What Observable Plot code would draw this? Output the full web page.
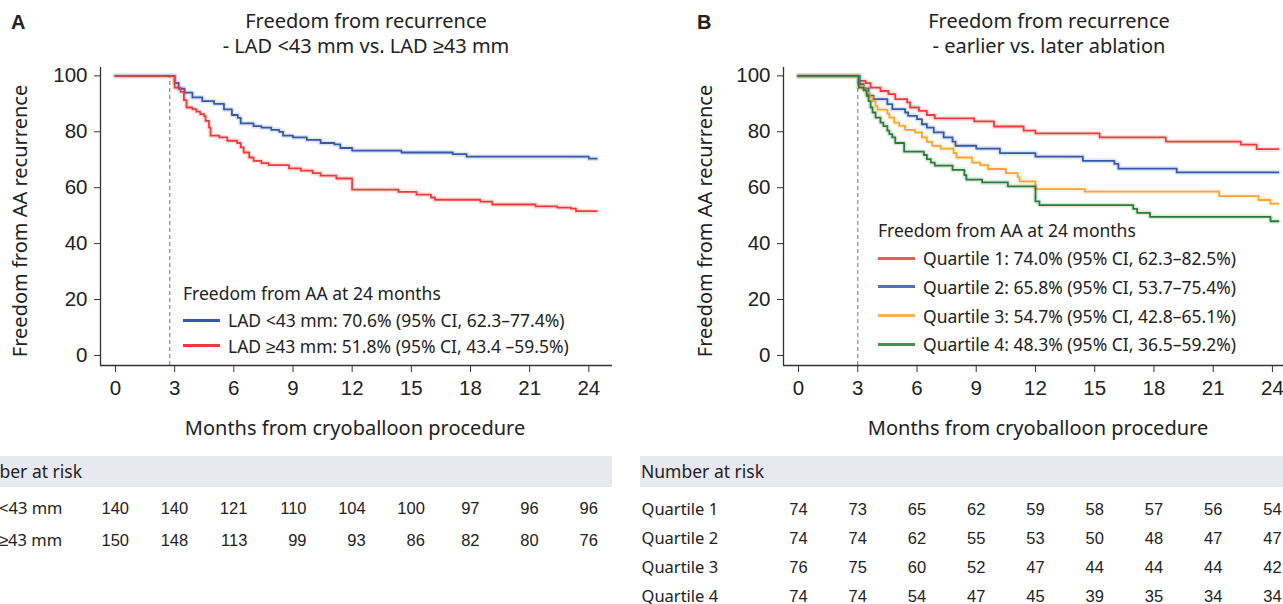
<!DOCTYPE html>
<html>
<head>
<meta charset="utf-8">
<script src="https://cdn.jsdelivr.net/npm/d3@7"></script>
<script src="https://cdn.jsdelivr.net/npm/@observablehq/plot@0.6"></script>
<style>
  body { margin: 0; background: #fff; }
  #root { position: relative; width: 1283px; height: 604px; overflow: hidden; background: #fff;
          font-family: "Noto Sans", sans-serif; color: #222; }
  .abs { position: absolute; white-space: nowrap; line-height: 1.2; }
  .band { position: absolute; background: #e8e8f1; }
  .sw { position: absolute; height: 3px; }
</style>
</head>
<body>
<div id="root"></div>
<script>
// ---------------- data ----------------
const xTicks = [0, 3, 6, 9, 12, 15, 18, 21, 24];
const yTicks = [0, 20, 40, 60, 80, 100];

// Panel A: LAD <43 mm
const ladLowT = [0, 3.0, 3.2, 3.5, 3.9, 4.4, 5.0, 5.5, 5.9, 6.2, 6.35, 7.0, 7.4, 7.9, 8.3, 8.5, 9.0, 9.7, 10.4, 11.1, 11.4, 12.0, 14.5, 17.1, 17.8, 24.0, 24.4];
const ladLowS = [100, 97.5, 95.4, 94, 92.3, 91, 90, 88, 86, 85, 83, 82, 81.5, 80.7, 80, 78.6, 78, 77.1, 76, 75.5, 74.2, 73.3, 72.6, 72, 71.1, 70.4, 70.4];
// Panel A: LAD >=43 mm
const ladHighT = [0, 3.0, 3.3, 3.47, 3.6, 3.9, 4.1, 4.3, 4.5, 4.57, 4.74, 4.82, 5.26, 5.67, 6.17, 6.35, 6.5, 6.78, 7.0, 7.4, 7.77, 8.8, 9.4, 10.0, 10.4, 11.2, 12.0, 14.35, 15.26, 16.0, 16.2, 18.5, 19.1, 21.3, 22.4, 23.1, 23.35, 24.4];
const ladHighS = [100, 95.8, 94.3, 91.3, 88.7, 88.1, 87.2, 86.3, 85.5, 83.9, 81.5, 78.6, 78, 76.8, 76, 74.4, 72.6, 70.8, 69.6, 68.8, 68.1, 66.9, 66.1, 65.2, 64.3, 63.3, 59.3, 58.5, 57.5, 56.5, 55.7, 55, 54, 53.3, 52.9, 52.5, 51.6, 51.6];

// Panel B: quartiles
const q1T = [0, 3.05, 3.4, 3.65, 4.15, 4.55, 4.9, 5.5, 5.65, 6.1, 6.5, 6.9, 8.9, 9.9, 11.4, 12.0, 15.25, 18.6, 22.4, 23.2, 24.3];
const q1S = [100, 98.2, 97.4, 95.8, 94.6, 93.5, 91.7, 90.5, 88.7, 87.5, 86, 84.8, 83.7, 81.9, 80.4, 79.4, 78, 76.5, 75.4, 73.8, 73.8];
const q2T = [0, 3.1, 3.3, 3.55, 3.8, 4.5, 4.75, 5.4, 5.55, 6.0, 6.25, 6.5, 6.85, 7.35, 7.8, 7.95, 9.0, 10.2, 12.0, 14.4, 16.0, 16.2, 19.15, 24.3];
const q2S = [100, 97, 95.5, 92.9, 91.7, 89.9, 88.1, 86.9, 85.7, 84.5, 82.7, 81.5, 79.8, 78, 76.5, 75, 74, 72.4, 71.1, 69.6, 68.5, 66.8, 65.5, 65.5];
const q3T = [0, 3.05, 3.3, 3.45, 3.6, 3.75, 3.9, 4.0, 4.5, 4.6, 4.85, 5.1, 5.4, 5.9, 6.25, 6.5, 6.77, 7.2, 7.85, 8.0, 8.8, 9.2, 9.6, 10.5, 11.1, 11.2, 12.0, 14.5, 21.3, 23.3, 23.9, 24.3];
const q3S = [100, 96.4, 95.2, 94, 92.5, 91, 89.3, 87.9, 86.5, 85.1, 83.3, 82.1, 80.7, 79.8, 78, 76.4, 75, 74, 72.4, 70.8, 69, 68.1, 66.7, 65.2, 63.7, 62.3, 59.5, 58.6, 57, 55.6, 54.3, 54.3];
const q4T = [0, 3.05, 3.3, 3.45, 3.55, 3.65, 3.75, 3.9, 4.15, 4.3, 4.5, 4.6, 4.75, 4.9, 5.35, 6.35, 6.5, 6.7, 6.9, 7.8, 8.4, 8.5, 9.3, 10.6, 12.0, 12.2, 16.95, 17.15, 17.8, 23.9, 24.3];
const q4S = [100, 95.8, 94.8, 92.9, 91, 88.7, 86.9, 85.1, 83.3, 82, 80.4, 79.2, 78, 76, 72.9, 71.7, 70.2, 69, 67.9, 66.4, 64.5, 62.9, 61.9, 60.5, 55.1, 53.8, 52.4, 51, 49.6, 48, 48];

// Number at risk
const riskLabelsA = ["LAD <43 mm", "LAD ≥43 mm"];
const riskLadLow = [140, 140, 121, 110, 104, 100, 97, 96, 96];
const riskLadHigh = [150, 148, 113, 99, 93, 86, 82, 80, 76];
const riskLabelsB = ["Quartile 1", "Quartile 2", "Quartile 3", "Quartile 4"];
const riskQ1 = [74, 73, 65, 62, 59, 58, 57, 56, 54];
const riskQ2 = [74, 74, 62, 55, 53, 50, 48, 47, 47];
const riskQ3 = [76, 75, 60, 52, 47, 44, 44, 44, 42];
const riskQ4 = [74, 74, 54, 47, 45, 39, 35, 34, 34];

// Legend texts
const legendHeader = "Freedom from AA at 24 months";
const legendA = ["LAD <43 mm: 70.6% (95% CI, 62.3–77.4%)", "LAD ≥43 mm: 51.8% (95% CI, 43.4 –59.5%)"];
const legendB = ["Quartile 1: 74.0% (95% CI, 62.3–82.5%)", "Quartile 2: 65.8% (95% CI, 53.7–75.4%)",
                 "Quartile 3: 54.7% (95% CI, 42.8–65.1%)", "Quartile 4: 48.3% (95% CI, 36.5–59.2%)"];

// Colours
const RED = "#ee3a3a", BLUE = "#3559a8", ORANGE = "#f8a535", GREEN = "#2c7a36";

// ---------------- drawing ----------------
const root = document.getElementById("root");
const YMIN = -3.6, YMAX = 103;
const TICKFONT = "'Liberation Sans', Arial, sans-serif";

function place(el, left, top) {
  el.style.position = "absolute";
  el.style.left = left + "px";
  el.style.top = top + "px";
  root.appendChild(el);
}

function txt(s, x, y, o = {}) {
  const d = document.createElement("div");
  d.className = "abs";
  d.textContent = s;
  d.style.left = x + "px";
  d.style.top = y + "px";
  d.style.fontSize = (o.size || 20) + "px";
  if (o.weight) d.style.fontWeight = o.weight;
  if (o.family) d.style.fontFamily = o.family;
  const tx = o.anchor === "middle" ? "-50%" : "0";
  d.style.transform = `translate(${tx}, -50%)` + (o.rotate ? " rotate(-90deg)" : "");
  root.appendChild(d);
}

function kmPlot({series, xDomain, width, marginLeft, marginRight, dashX}) {
  const marks = [
    Plot.ruleX([dashX], {y1: YMIN, y2: 100, stroke: "#8a8a8a", strokeWidth: 1.2, strokeDasharray: "4,3"})
  ];
  for (const s of series) {
    const data = s.t.map((t, i) => ({t, v: s.v[i]}));
    marks.push(Plot.line(data, {x: "t", y: "v", stroke: s.color, strokeWidth: 5, strokeOpacity: 0.16, curve: "step-after"}));
    marks.push(Plot.line(data, {x: "t", y: "v", stroke: s.color, strokeWidth: 1.8, curve: "step-after"}));
  }
  marks.push(
    Plot.ruleY([YMIN], {stroke: "#333", strokeWidth: 1.3}),
    Plot.ruleX([xDomain[0]], {stroke: "#333", strokeWidth: 1.3}),
    Plot.axisX(xTicks, {tickSize: 7, tickPadding: 8, label: null, stroke: "#333", fontSize: 20.5}),
    Plot.axisY(yTicks, {tickSize: 6, tickPadding: 7, label: null, stroke: "#333", fontSize: 20.5})
  );
  return Plot.plot({
    width, height: 440, marginLeft, marginRight, marginTop: 67, marginBottom: 75,
    x: {domain: xDomain, label: null},
    y: {domain: [YMIN, YMAX], label: null},
    style: {background: "transparent", fontFamily: TICKFONT, fontSize: "20.5px", color: "#222", overflow: "visible"},
    marks
  });
}

function riskPlot({labels, rows, xDomain, width, marginLeft, marginRight, yRange, labelDx, align}) {
  const data = [];
  labels.forEach((lab, r) => rows[r].forEach((n, c) => data.push({t: xTicks[c], name: lab, n, col: c})));
  const colMax = xTicks.map((_, c) => d3.max(rows, row => String(row[c]).length));
  const marks = [
    Plot.text(labels, {y: d => d, text: d => d, frameAnchor: "left", dx: labelDx, textAnchor: "start",
                       fontFamily: "'Noto Sans', sans-serif", fontSize: 16.5})
  ];
  if (align === "right") {
    marks.push(Plot.text(data.filter(d => colMax[d.col] >= 3), {x: "t", y: "name", text: "n", textAnchor: "end", dx: 13.5, fontSize: 16.5}));
    marks.push(Plot.text(data.filter(d => colMax[d.col] < 3), {x: "t", y: "name", text: "n", textAnchor: "end", dx: 9, fontSize: 16.5}));
  } else {
    marks.push(Plot.text(data, {x: "t", y: "name", text: "n", textAnchor: "middle", fontSize: 16.5}));
  }
  return Plot.plot({
    width, height: 164, marginLeft, marginRight, marginTop: 0, marginBottom: 0,
    x: {domain: xDomain, axis: null},
    y: {type: "point", domain: labels, range: yRange, padding: 0, axis: null},
    style: {background: "transparent", fontFamily: TICKFONT, fontSize: "16.5px", color: "#222", overflow: "visible"},
    marks
  });
}

// ---- Panels ----
const xDomA = [-0.76, 25.2];
const xDomB = [-0.76, 24.56];

// header bands (behind risk plots)
const bandA = document.createElement("div"); bandA.className = "band";
bandA.style.width = "612px"; bandA.style.height = "31px"; place(bandA, 0, 456);
const bandB = document.createElement("div"); bandB.className = "band";
bandB.style.width = "643px"; bandB.style.height = "31px"; place(bandB, 640, 456);

const plotA = kmPlot({
  series: [{t: ladLowT, v: ladLowS, color: BLUE}, {t: ladHighT, v: ladHighS, color: RED}],
  xDomain: xDomA, width: 640, marginLeft: 100, marginRight: 28, dashX: 2.75
});
place(plotA, 0, 0);

const plotB = kmPlot({
  series: [{t: q1T, v: q1S, color: RED}, {t: q2T, v: q2S, color: BLUE},
           {t: q3T, v: q3S, color: ORANGE}, {t: q4T, v: q4S, color: GREEN}],
  xDomain: xDomB, width: 643, marginLeft: 143, marginRight: 0, dashX: 3
});
place(plotB, 640, 0);

const riskA = riskPlot({labels: riskLabelsA, rows: [riskLadLow, riskLadHigh], xDomain: xDomA, width: 640,
  marginLeft: 100, marginRight: 28, yRange: [68, 100], labelDx: -137, align: "right"});
place(riskA, 0, 440);
const riskB = riskPlot({labels: riskLabelsB, rows: [riskQ1, riskQ2, riskQ3, riskQ4], xDomain: xDomB, width: 643,
  marginLeft: 143, marginRight: 0, yRange: [68, 156], labelDx: -142, align: "middle"});
place(riskB, 640, 440);

// ---- texts ----
txt("A", 11, 22, {size: 20, weight: "bold", family: TICKFONT});
txt("B", 697, 22, {size: 20, weight: "bold", family: TICKFONT});
txt("Freedom from recurrence", 366, 21, {anchor: "middle"});
txt("- LAD <43 mm vs. LAD ≥43 mm", 366, 46, {anchor: "middle"});
txt("Freedom from recurrence", 1049, 21, {anchor: "middle"});
txt("- earlier vs. later ablation", 1049, 46, {anchor: "middle"});
txt("Freedom from AA recurrence", 20, 221, {anchor: "middle", rotate: true});
txt("Freedom from AA recurrence", 705, 221, {anchor: "middle", rotate: true});
txt("Months from cryoballoon procedure", 355, 428, {anchor: "middle"});
txt("Months from cryoballoon procedure", 1038, 428, {anchor: "middle"});
txt("Number at risk", -41, 471, {size: 17.5});
txt("Number at risk", 641, 471, {size: 17.5});

// legends
txt(legendHeader, 183, 293, {size: 17.5});
const colA = [BLUE, RED];
legendA.forEach((s, i) => {
  const y = 320 + i * 25.5;
  const sw = document.createElement("div"); sw.className = "sw";
  sw.style.width = "37px"; sw.style.background = colA[i]; place(sw, 183, y - 1.5);
  txt(s, 228, y, {size: 17.5});
});
txt(legendHeader, 878, 230, {size: 17.5});
const colB = [RED, BLUE, ORANGE, GREEN];
legendB.forEach((s, i) => {
  const y = 258 + i * 28.8;
  const sw = document.createElement("div"); sw.className = "sw";
  sw.style.width = "37px"; sw.style.background = colB[i]; sw.style.opacity = 0.85; place(sw, 878, y - 1.5);
  txt(s, 923, y, {size: 17.5});
});
</script>
</body>
</html>
